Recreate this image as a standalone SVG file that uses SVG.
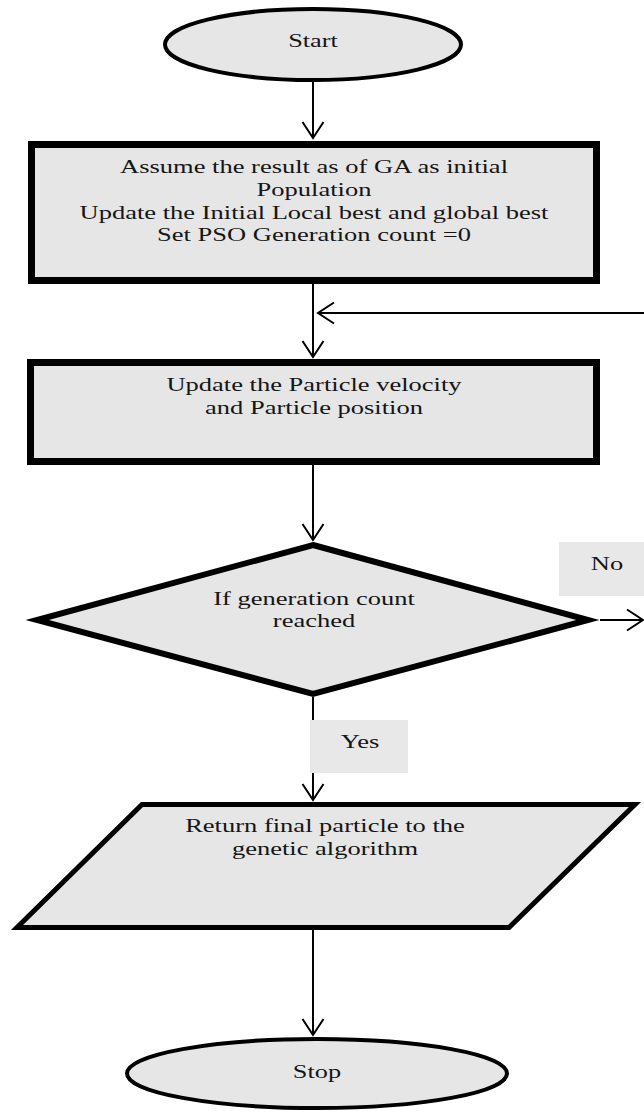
<svg xmlns="http://www.w3.org/2000/svg" width="644" height="1112" viewBox="0 0 644 1112">
<style>
.shape{fill:#e6e6e6;stroke:#000;}
.lbl{fill:#e8e8e8;stroke:none;}
.t{font-family:"Liberation Serif","Times New Roman",serif;font-size:19.5px;fill:#151515;text-anchor:middle;}
.c{stroke:#000;stroke-width:2;fill:none;marker-end:url(#arr);}
</style>
<defs>
<marker id="arr" markerUnits="userSpaceOnUse" markerWidth="22" markerHeight="26" refX="17" refY="12" orient="auto">
<path d="M1,1.5 L17,12 L1,22.5" fill="none" stroke="#000" stroke-width="2"/>
</marker>
</defs>
<rect width="644" height="1112" fill="#fff"/>
<g id="connectors">
<line class="c" x1="313" y1="82" x2="313" y2="138"/>
<line class="c" x1="313" y1="284" x2="313" y2="357"/>
<line class="c" x1="644" y1="313" x2="318" y2="313"/>
<line class="c" x1="313" y1="465" x2="313" y2="540"/>
<line class="c" x1="600" y1="620" x2="643" y2="620"/>
<line class="c" x1="313" y1="697" x2="313" y2="800"/>
<line class="c" x1="313" y1="930" x2="313" y2="1035"/>
</g>
<g id="start">
<ellipse class="shape" cx="313" cy="44.5" rx="148" ry="35.5" stroke-width="4"/>
<text class="t" transform="matrix(1.35 0 0 1 313 0)" x="0" y="47">Start</text>
</g>
<g id="init">
<rect class="shape" x="31.5" y="144.5" width="565" height="136" stroke-width="7"/>
<text class="t" transform="matrix(1.36 0 0 1 314 0)" x="0" y="173">Assume the result as of GA as initial</text>
<text class="t" transform="matrix(1.36 0 0 1 314 0)" x="0" y="196">Population</text>
<text class="t" transform="matrix(1.36 0 0 1 314 0)" x="0" y="218.5">Update the Initial Local best and global best</text>
<text class="t" transform="matrix(1.36 0 0 1 314 0)" x="0" y="241">Set PSO Generation count =0</text>
</g>
<g id="update">
<rect class="shape" x="30.5" y="362.5" width="566" height="99" stroke-width="7"/>
<text class="t" transform="matrix(1.36 0 0 1 314 0)" x="0" y="391">Update the Particle velocity</text>
<text class="t" transform="matrix(1.36 0 0 1 314 0)" x="0" y="414">and Particle position</text>
</g>
<g id="decision">
<polygon class="shape" points="313,545 588,620 313,694 37,620" stroke-width="6"/>
<text class="t" transform="matrix(1.36 0 0 1 314 0)" x="0" y="605">If generation count</text>
<text class="t" transform="matrix(1.36 0 0 1 314 0)" x="0" y="627">reached</text>
</g>
<g id="label-no">
<rect class="lbl" x="559" y="542" width="85" height="54"/>
<text class="t" transform="matrix(1.36 0 0 1 607 0)" x="0" y="570">No</text>
</g>
<g id="label-yes">
<rect class="lbl" x="310" y="720" width="98" height="53"/>
<text class="t" transform="matrix(1.36 0 0 1 360 0)" x="0" y="748">Yes</text>
</g>
<g id="return">
<polygon class="shape" points="142,804.5 635,804.5 509,927.5 17,927.5" stroke-width="5"/>
<text class="t" transform="matrix(1.36 0 0 1 325 0)" x="0" y="832">Return final particle to the</text>
<text class="t" transform="matrix(1.36 0 0 1 325 0)" x="0" y="855">genetic algorithm</text>
</g>
<g id="stop">
<ellipse class="shape" cx="317" cy="1073.5" rx="190" ry="34.5" stroke-width="4"/>
<text class="t" transform="matrix(1.35 0 0 1 317 0)" x="0" y="1078">Stop</text>
</g>
</svg>
